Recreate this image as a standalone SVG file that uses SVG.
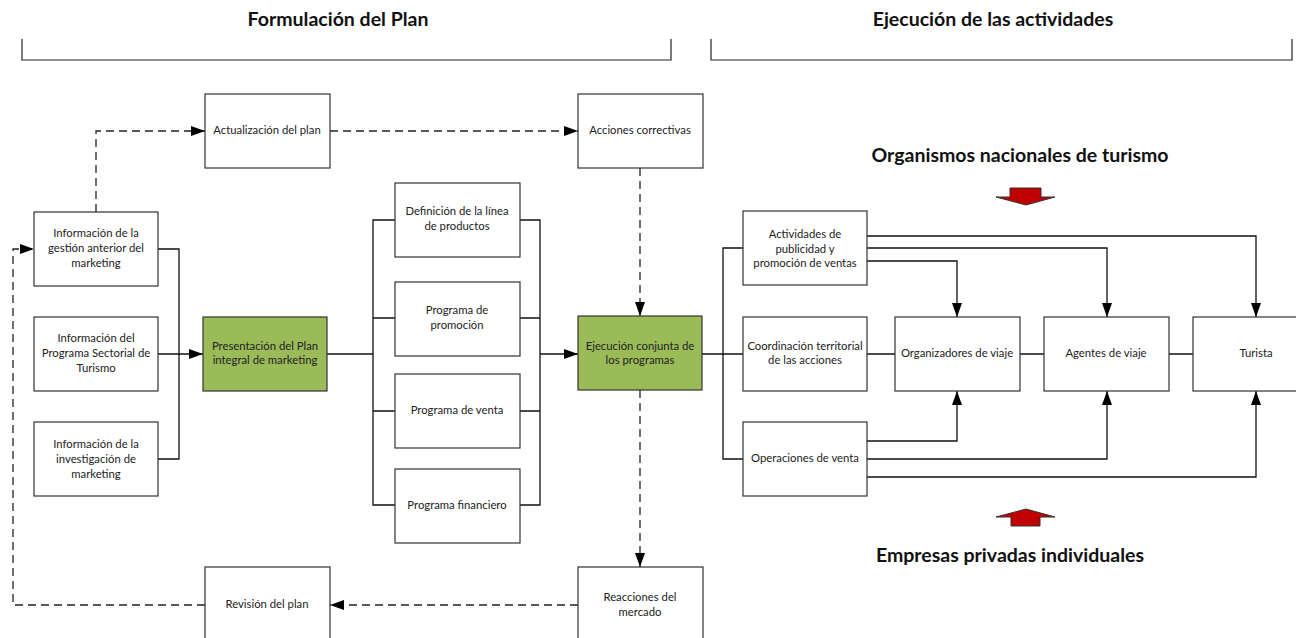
<svg xmlns="http://www.w3.org/2000/svg" width="1296" height="638" viewBox="0 0 1296 638">
<defs>
<style>
.box{fill:#fff;stroke:#333;stroke-width:1.2}
.green{fill:#9BBB59;stroke:#333;stroke-width:1.2}
.t{font-family:Lato,"Liberation Sans",sans-serif;font-size:11.3px;fill:#222;text-anchor:middle;dominant-baseline:middle}
.h{font-family:Lato,"Liberation Sans",sans-serif;font-size:19.5px;font-weight:bold;fill:#111;text-anchor:middle;dominant-baseline:middle}
.c{fill:none;stroke:#111;stroke-width:1.3}
.d{fill:none;stroke:#222;stroke-width:1.3;stroke-dasharray:8,5}
.br{fill:none;stroke:#222;stroke-width:1.2}
.red{fill:#C00000;stroke:#333;stroke-width:1}
</style>
<marker id="ah" markerUnits="userSpaceOnUse" markerWidth="15" markerHeight="12" refX="14" refY="6" orient="auto">
<path d="M0,1 L14,6 L0,11 Z" fill="#000"/>
</marker>
</defs>
<g id="headers">
<text class="h" x="338" y="21">Formulación del Plan</text>
<path class="br" d="M22,39 V60 H671 V39"/>
<text class="h" x="993" y="21">Ejecución de las actividades</text>
<path class="br" d="M711,39 V60 H1292 V39"/>
<text class="h" x="1020" y="157">Organismos nacionales de turismo</text>
<text class="h" x="1010" y="557">Empresas privadas individuales</text>
<path class="red" d="M1010,188 H1041 V197 H1055 L1026,205 L996,197 H1010 Z"/>
<path class="red" d="M1011,526 H1040 V517 H1055 L1026,509 L996,517 H1011 Z"/>
</g>
<g id="connectors">
<path class="d" d="M205,605 H13 V249 H34" marker-end="url(#ah)"/>
<path class="d" d="M96,212 V131 H205" marker-end="url(#ah)"/>
<path class="d" d="M330,131 H578" marker-end="url(#ah)"/>
<path class="d" d="M640,168 V316" marker-end="url(#ah)"/>
<path class="d" d="M640,390 V567" marker-end="url(#ah)"/>
<path class="d" d="M578,605 H330" marker-end="url(#ah)"/>
<path class="c" d="M158,249 H179 V459 H158"/>
<path class="c" d="M158,354 H203" marker-end="url(#ah)"/>
<path class="c" d="M327,354 H373"/>
<path class="c" d="M395,220 H373 V505 H395 M373,318 H395 M373,411 H395"/>
<path class="c" d="M520,220 H540 V505 H520 M540,318 H520 M540,411 H520"/>
<path class="c" d="M540,354 H578" marker-end="url(#ah)"/>
<path class="c" d="M702,354 H743"/>
<path class="c" d="M743,248 H723 V459 H743"/>
<path class="c" d="M867,236 H1256 V317" marker-end="url(#ah)"/>
<path class="c" d="M867,248 H1107 V317" marker-end="url(#ah)"/>
<path class="c" d="M867,261 H957 V317" marker-end="url(#ah)"/>
<path class="c" d="M867,354 H895 M1020,354 H1044 M1169,354 H1193"/>
<path class="c" d="M867,441 H957 V391" marker-end="url(#ah)"/>
<path class="c" d="M867,459 H1107 V391" marker-end="url(#ah)"/>
<path class="c" d="M867,477 H1256 V391" marker-end="url(#ah)"/>
</g>
<g id="n-actualizacion"><rect class="box" x="205" y="94" width="125" height="74"/><text class="t" x="267" y="131">Actualización del plan</text></g>
<g id="n-acciones"><rect class="box" x="578" y="94" width="125" height="74"/><text class="t" x="640" y="131">Acciones correctivas</text></g>
<g id="n-gestion"><rect class="box" x="34" y="212" width="124" height="74"/><text class="t" x="96" y="234">Información de la</text><text class="t" x="96" y="249">gestión anterior del</text><text class="t" x="96" y="264">marketing</text></g>
<g id="n-sectorial"><rect class="box" x="34" y="317" width="124" height="74"/><text class="t" x="96" y="339">Información del</text><text class="t" x="96" y="354">Programa Sectorial de</text><text class="t" x="96" y="369">Turismo</text></g>
<g id="n-investigacion"><rect class="box" x="34" y="422" width="124" height="74"/><text class="t" x="96" y="445">Información de la</text><text class="t" x="96" y="460">investigación de</text><text class="t" x="96" y="475">marketing</text></g>
<g id="n-presentacion"><rect class="green" x="203" y="317" width="124" height="74"/><text class="t" x="265" y="347">Presentación del Plan</text><text class="t" x="265" y="361">integral de marketing</text></g>
<g id="n-definicion"><rect class="box" x="395" y="183" width="125" height="74"/><text class="t" x="457" y="212">Definición de la línea</text><text class="t" x="457" y="227">de productos</text></g>
<g id="n-promocion"><rect class="box" x="395" y="282" width="125" height="74"/><text class="t" x="457" y="311">Programa de</text><text class="t" x="457" y="326">promoción</text></g>
<g id="n-venta"><rect class="box" x="395" y="374" width="125" height="74"/><text class="t" x="457" y="411">Programa de venta</text></g>
<g id="n-financiero"><rect class="box" x="395" y="469" width="125" height="74"/><text class="t" x="457" y="506">Programa financiero</text></g>
<g id="n-ejecucion"><rect class="green" x="578" y="316" width="124" height="74"/><text class="t" x="640" y="347">Ejecución conjunta de</text><text class="t" x="640" y="361">los programas</text></g>
<g id="n-reacciones"><rect class="box" x="578" y="567" width="125" height="74"/><text class="t" x="640" y="598">Reacciones del</text><text class="t" x="640" y="613">mercado</text></g>
<g id="n-revision"><rect class="box" x="205" y="567" width="125" height="74"/><text class="t" x="267" y="605">Revisión del plan</text></g>
<g id="n-actividades"><rect class="box" x="743" y="211" width="124" height="74"/><text class="t" x="805" y="235">Actividades de</text><text class="t" x="805" y="250">publicidad y</text><text class="t" x="805" y="264">promoción de ventas</text></g>
<g id="n-coordinacion"><rect class="box" x="743" y="317" width="124" height="74"/><text class="t" x="805" y="347">Coordinación territorial</text><text class="t" x="805" y="361">de las acciones</text></g>
<g id="n-operaciones"><rect class="box" x="743" y="422" width="124" height="74"/><text class="t" x="805" y="459">Operaciones de venta</text></g>
<g id="n-organizadores"><rect class="box" x="895" y="317" width="125" height="74"/><text class="t" x="957" y="354">Organizadores de viaje</text></g>
<g id="n-agentes"><rect class="box" x="1044" y="317" width="125" height="74"/><text class="t" x="1106" y="354">Agentes de viaje</text></g>
<g id="n-turista"><rect class="box" x="1193" y="317" width="125" height="74"/><text class="t" x="1256" y="354">Turista</text></g>
</svg>
